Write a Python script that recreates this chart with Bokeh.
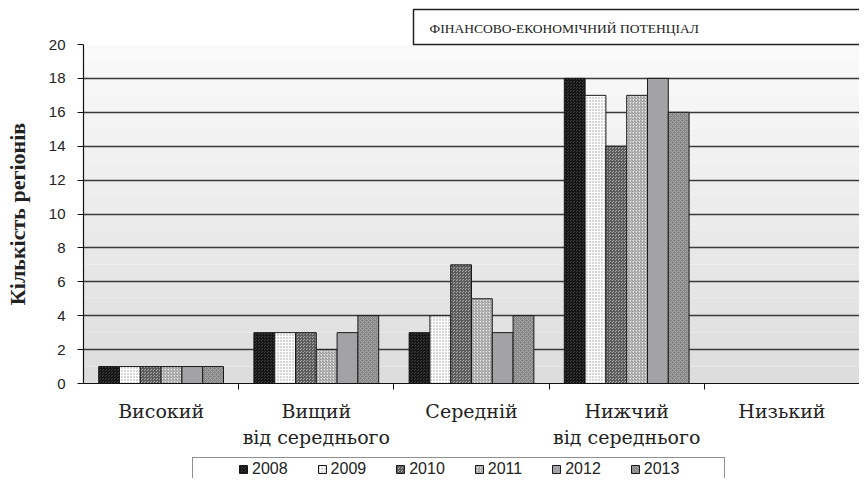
from bokeh.plotting import figure
from bokeh.layouts import column
from bokeh.models import (ColumnDataSource, Range1d, FixedTicker, BoxAnnotation, Legend, LegendItem)
from bokeh.transform import dodge
from bokeh.embed import file_html
from bokeh.resources import INLINE

# ---------------- data ----------------
categories = ["Високий", "Вищий від середнього", "Середній", "Нижчий від середнього", "Низький"]
category_labels = ["Високий", "Вищий\nвід середнього", "Середній", "Нижчий\nвід середнього", "Низький"]
years = ["2008", "2009", "2010", "2011", "2012", "2013"]
v2008 = [1, 3, 3, 18, 0]
v2009 = [1, 3, 4, 17, 0]
v2010 = [1, 3, 7, 14, 0]
v2011 = [1, 2, 5, 17, 0]
v2012 = [1, 3, 3, 18, 0]
v2013 = [1, 4, 4, 16, 0]
y_ticks = [0, 2, 4, 6, 8, 10, 12, 14, 16, 18, 20]
title_text = "ФІНАНСОВО-ЕКОНОМІЧНИЙ ПОТЕНЦІАЛ"
y_label = "Кількість регіонів"

n_cat = len(categories)
centers = [k + 0.5 for k in range(n_cat)]
source = ColumnDataSource(dict(cat=categories, pos=centers, y2008=v2008, y2009=v2009,
                               y2010=v2010, y2011=v2011, y2012=v2012, y2013=v2013))

# ---------------- styles ----------------
styles = {
    "2008": dict(fill_color="#404040", hatch_pattern="criss_cross", hatch_color="#151515", hatch_scale=3),
    "2009": dict(fill_color="#ffffff", hatch_pattern="dot", hatch_color="#9a9a9a", hatch_scale=3),
    "2010": dict(fill_color="#ababab", hatch_pattern="criss_cross", hatch_color="#5c5c5c", hatch_scale=3),
    "2011": dict(fill_color="#e8e8e8", hatch_pattern="right_diagonal_line", hatch_color="#8a8a8a", hatch_scale=3),
    "2012": dict(fill_color="#a3a3a6", hatch_pattern=None, hatch_color="#a3a3a6", hatch_scale=3),
    "2013": dict(fill_color="#858585", hatch_pattern="diagonal_cross", hatch_color="#a8a8a8", hatch_scale=4),
}


def bar_style(yr):
    st = styles[yr]
    kw = dict(fill_color=st["fill_color"], line_color="#1a1a1a", line_width=1)
    if st["hatch_pattern"]:
        kw.update(hatch_pattern=st["hatch_pattern"], hatch_color=st["hatch_color"],
                  hatch_scale=st["hatch_scale"], hatch_weight=1)
    return kw


p = figure(x_range=Range1d(0, n_cat), y_range=Range1d(0, 20),
           width=859, height=457, output_backend="svg", toolbar_location=None,
           min_border_left=83, min_border_right=0,
           min_border_top=44, min_border_bottom=74)
p.outline_line_color = None
p.background_fill_color = "#ffffff"
p.border_fill_color = "#ffffff"

# soft vertical gradient of the plot area
n_bands = 20
for i in range(n_bands):
    t = i / (n_bands - 1)
    g = int(round(221 + t * (250 - 221)))
    p.add_layout(BoxAnnotation(bottom=20 * i / n_bands, top=20 * (i + 1) / n_bands,
                               fill_color=(g, g, g), fill_alpha=1, line_color=None,
                               level="image"))

# ---------------- bars ----------------
bw = 0.134
for i, yr in enumerate(years):
    p.vbar(x=dodge("pos", (i - 2.5) * bw), top="y" + yr, width=bw, source=source, **bar_style(yr))

# ---------------- axes ----------------
xaxis = p.xaxis[0]
xaxis.ticker = FixedTicker(ticks=centers, minor_ticks=list(range(1, n_cat)))
xaxis.major_label_overrides = {c: lab for c, lab in zip(centers, category_labels)}
xaxis.axis_line_color = "#111111"
xaxis.axis_line_width = 1.2
xaxis.major_tick_line_color = None
xaxis.minor_tick_line_color = "#111111"
xaxis.minor_tick_out = 6
xaxis.minor_tick_in = 0
xaxis.major_label_standoff = 10
xaxis.major_label_text_font = "DejaVu Serif"
xaxis.major_label_text_font_size = "19px"
xaxis.major_label_text_color = "#222222"

ya = p.yaxis[0]
ya.ticker = FixedTicker(ticks=y_ticks)
ya.axis_line_color = "#111111"
ya.axis_line_width = 1.2
ya.major_tick_line_color = "#111111"
ya.major_tick_out = 6
ya.major_tick_in = 0
ya.minor_tick_line_color = None
ya.major_label_standoff = 12
ya.major_label_text_font = "Liberation Sans"
ya.major_label_text_font_size = "15px"
ya.major_label_text_color = "#222222"
ya.axis_label = y_label
ya.axis_label_text_font = "Liberation Serif"
ya.axis_label_text_font_style = "bold"
ya.axis_label_text_font_size = "22px"
ya.axis_label_text_color = "#222222"
ya.axis_label_standoff = 16

p.xgrid.grid_line_color = None
p.ygrid.ticker = FixedTicker(ticks=y_ticks)
p.ygrid.grid_line_color = "#3a3a3a"
p.ygrid.grid_line_width = 1.3

# ---------------- title box ----------------
p.title.text = title_text
p.title.align = "left"
p.title.offset = 330
p.title.standoff = 0
p.title.text_font = "Liberation Serif"
p.title.text_font_style = "normal"
p.title.text_font_size = "13.5px"
p.title.text_color = "#222222"
p.title.padding = dict(left=16, right=170, top=11, bottom=9)
p.title.border_line_color = "#222222"
p.title.border_line_width = 1.5
p.title.background_fill_color = "#ffffff"

# ---------------- legend (own strip below the chart) ----------------
# the same series are drawn here outside the visible y range, only to feed the legend swatches
pl = figure(x_range=p.x_range, y_range=Range1d(100, 101), width=859, height=21,
            output_backend="svg", toolbar_location=None,
            min_border_left=0, min_border_right=0, min_border_top=0, min_border_bottom=0)
pl.axis.visible = False
pl.grid.visible = False
pl.outline_line_color = None
pl.background_fill_color = "#ffffff"
pl.border_fill_color = "#ffffff"

spacer = pl.vbar(x="pos", top="y2008", width=bw, source=source, fill_alpha=0, line_alpha=0)
items = [LegendItem(label=" ", renderers=[spacer])]
for i, yr in enumerate(years):
    r = pl.vbar(x=dodge("pos", (i - 2.5) * bw), top="y" + yr, width=bw, source=source,
                **bar_style(yr))
    items.append(LegendItem(label=yr, renderers=[r]))
items.append(LegendItem(label=" ", renderers=[spacer]))

lg = Legend(items=items, orientation="horizontal", location=(109, -3))
lg.padding = 2
lg.margin = 0
lg.spacing = 29
lg.glyph_width = 10
lg.glyph_height = 10
lg.label_standoff = 4
lg.label_width = 0
lg.label_text_font = "Liberation Sans"
lg.label_text_font_size = "16px"
lg.label_text_color = "#222222"
lg.border_line_color = "#222222"
lg.border_line_width = 1.5
lg.background_fill_color = "#ffffff"
lg.background_fill_alpha = 1
pl.add_layout(lg)

layout = column(p, pl, spacing=0)
open("out.html", "w").write(file_html(layout, INLINE))
